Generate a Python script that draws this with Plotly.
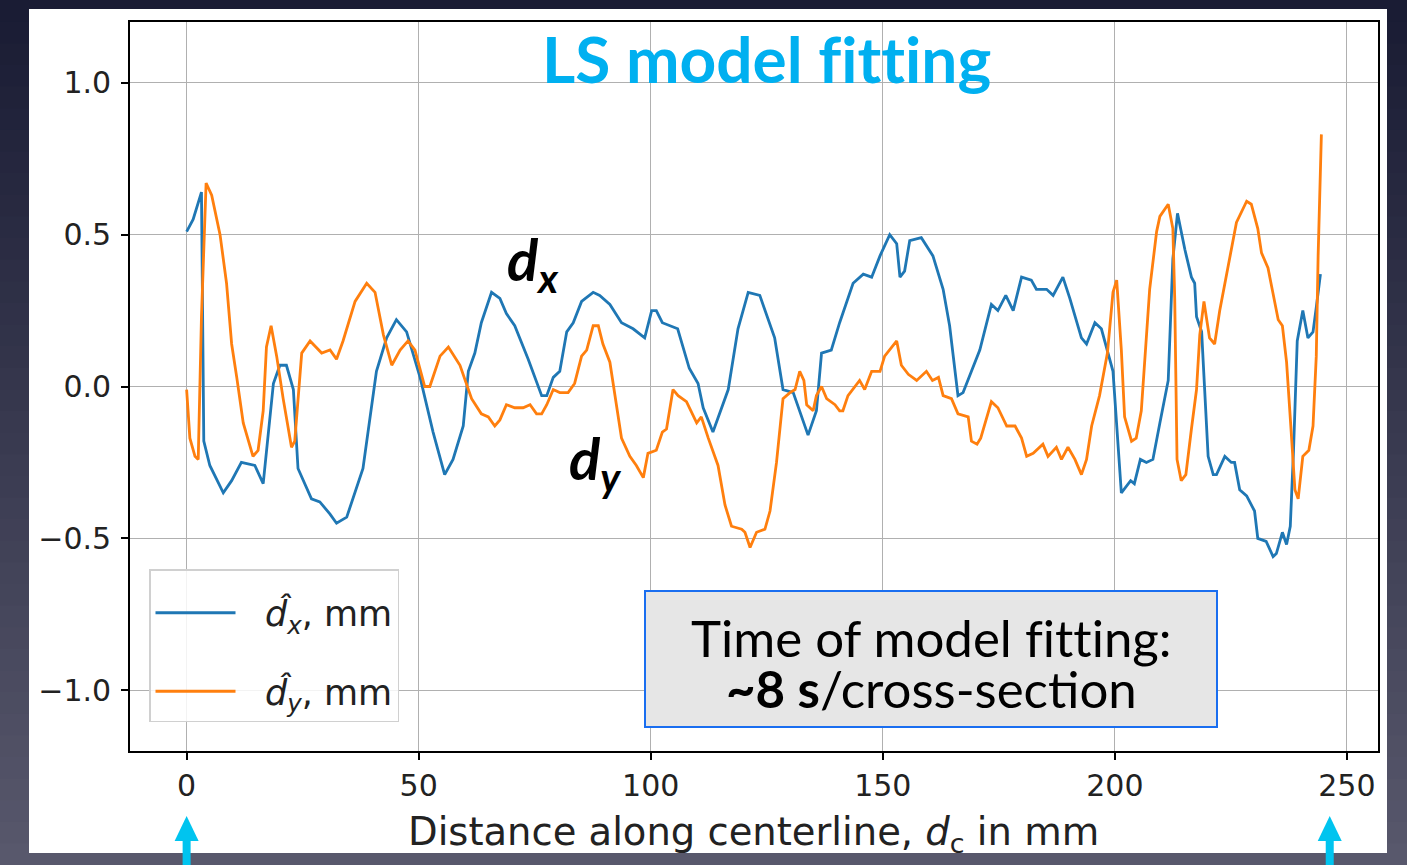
import plotly.graph_objects as go

# ---------------- data ----------------
dx_pos = [0, 1.4, 3.2, 3.7, 5.0, 7.9, 9.7, 11.8, 14.7, 16.5,
          18.7, 20.1, 21.5, 23.0, 24.0, 26.9, 28.7, 30.9, 32.3, 34.5,
          38.0, 40.9, 43.1, 45.2, 47.4, 50.3, 53.1, 55.6, 57.4, 59.6,
          60.7, 62.1, 63.5, 65.7, 67.5, 68.9, 70.7, 73.6, 76.5, 77.6,
          79.0, 80.4, 81.9, 83.3, 85.1, 87.6, 89.0, 91.2, 93.7, 96.2,
          98.7, 100.2, 101.2, 102.5, 105.8, 108.3, 110.2, 111.3, 113.4, 115.2,
          116.7, 118.8, 121.0, 123.5, 126.7, 128.5, 130.7, 133.9, 135.7, 136.8,
          138.9, 140.7, 143.6, 145.8, 147.6, 149.4, 151.5, 153.0, 153.7, 154.7,
          155.8, 158.3, 160.8, 163.0, 164.4, 166.2, 167.3, 169.1, 170.9, 173.4,
          174.8, 176.5, 178.1, 179.9, 182.0, 183.1, 185.3, 186.7, 188.8, 190.3,
          192.8, 193.9, 195.7, 197.1, 199.6, 201.4, 203.4, 204.2, 205.5, 206.8,
          208.2, 209.7, 211.5, 212.5, 213.5, 215.1, 216.5, 217.2, 217.6, 218.7,
          219.4, 220.1, 221.2, 221.9, 223.7, 225.1, 225.8, 226.9, 228.4, 230.1,
          230.8, 232.6, 234.1, 234.8, 236.1, 237.0, 237.8, 238.5, 239.3, 240.5,
          241.6, 242.7, 243.4, 244.3]
dx_val = [0.51, 0.55, 0.64, -0.18, -0.26, -0.35, -0.31, -0.25, -0.26, -0.32,
          0.01, 0.07, 0.07, -0.01, -0.27, -0.37, -0.38, -0.42, -0.45, -0.43,
          -0.27, 0.05, 0.16, 0.22, 0.18, 0.03, -0.15, -0.29, -0.24, -0.13,
          0.05, 0.11, 0.21, 0.31, 0.29, 0.24, 0.20, 0.09, -0.03, -0.03,
          0.03, 0.05, 0.18, 0.21, 0.28, 0.31, 0.30, 0.27, 0.21, 0.19,
          0.16, 0.25, 0.25, 0.21, 0.19, 0.06, 0.01, -0.07, -0.15, -0.07,
          -0.01, 0.19, 0.31, 0.30, 0.16, -0.01, -0.02, -0.16, -0.08, 0.11,
          0.12, 0.21, 0.34, 0.37, 0.36, 0.43, 0.50, 0.47, 0.36, 0.38,
          0.48, 0.49, 0.43, 0.32, 0.20, -0.03, -0.02, 0.05, 0.12, 0.27,
          0.25, 0.30, 0.25, 0.36, 0.35, 0.32, 0.32, 0.30, 0.36, 0.29,
          0.16, 0.14, 0.21, 0.19, 0.05, -0.35, -0.31, -0.32, -0.24, -0.25,
          -0.24, -0.12, 0.02, 0.42, 0.57, 0.45, 0.36, 0.34, 0.23, 0.18,
          -0.05, -0.23, -0.29, -0.29, -0.23, -0.25, -0.25, -0.34, -0.36, -0.41,
          -0.50, -0.51, -0.56, -0.55, -0.48, -0.52, -0.46, -0.21, 0.15, 0.25,
          0.16, 0.18, 0.26, 0.37]

dy_pos = [0, 0.7, 1.8, 2.5, 3.2, 4.2, 5.4, 7.2, 8.6, 9.7,
          10.8, 12.2, 14.3, 15.4, 16.5, 17.2, 18.2, 19.4, 20.8, 22.6,
          23.3, 24.8, 26.6, 29.1, 30.9, 32.3, 33.7, 36.3, 38.8, 40.6,
          42.4, 44.2, 46.0, 47.7, 49.2, 51.3, 52.4, 54.6, 56.4, 58.9,
          61.4, 63.5, 65.0, 66.4, 67.5, 68.9, 70.7, 72.5, 74.0, 75.4,
          76.5, 77.6, 79.0, 80.4, 82.2, 83.6, 85.1, 86.2, 87.6, 88.7,
          89.7, 91.2, 92.6, 93.7, 95.5, 96.9, 98.4, 99.4, 101.2, 102.5,
          103.4, 104.8, 105.9, 107.7, 109.9, 110.9, 112.4, 114.5, 116.0, 117.4,
          119.6, 120.3, 121.4, 122.8, 124.6, 125.7, 127.1, 128.5, 130.0, 131.1,
          132.1, 133.0, 133.6, 135.0, 135.7, 136.8, 137.9, 139.7, 140.7, 141.4,
          142.5, 145.0, 146.1, 147.6, 149.4, 150.4, 153.0, 154.0, 155.5, 157.3,
          159.4, 160.7, 162.0, 163.0, 164.8, 166.2, 168.4, 169.1, 170.3, 171.1,
          173.4, 174.8, 176.7, 178.5, 179.9, 181.0, 182.4, 184.5, 185.6, 187.4,
          188.5, 189.9, 191.4, 192.8, 193.9, 195.0, 196.7, 198.4, 199.6, 200.4,
          201.4, 202.1, 203.6, 204.6, 205.7, 206.8, 207.5, 209.0, 209.7, 211.5,
          212.5, 212.9, 213.4, 214.3, 215.3, 216.5, 217.6, 218.3, 219.2, 220.4,
          221.5, 222.6, 224.4, 226.2, 228.4, 229.4, 230.8, 231.6, 233.0, 234.1,
          235.2, 236.1, 237.0, 238.0, 238.8, 239.5, 240.5, 241.8, 242.7, 243.4,
          243.8, 244.5]
dy_val = [-0.01, -0.17, -0.23, -0.24, 0.23, 0.67, 0.63, 0.50, 0.34, 0.14,
          0.03, -0.12, -0.23, -0.21, -0.08, 0.13, 0.20, 0.10, -0.04, -0.20,
          -0.18, 0.11, 0.15, 0.11, 0.12, 0.09, 0.15, 0.28, 0.34, 0.31,
          0.17, 0.07, 0.12, 0.15, 0.12, 0.00, 0.00, 0.10, 0.13, 0.07,
          -0.04, -0.09, -0.10, -0.13, -0.11, -0.06, -0.07, -0.07, -0.06, -0.09,
          -0.09, -0.06, -0.01, -0.02, -0.02, 0.01, 0.10, 0.12, 0.20, 0.20,
          0.14, 0.08, -0.06, -0.17, -0.23, -0.26, -0.30, -0.22, -0.21, -0.15,
          -0.14, -0.01, -0.03, -0.05, -0.12, -0.10, -0.17, -0.26, -0.39, -0.46,
          -0.47, -0.48, -0.53, -0.48, -0.47, -0.41, -0.25, -0.04, -0.02, -0.01,
          0.05, 0.02, -0.06, -0.08, -0.03, 0.00, -0.04, -0.06, -0.08, -0.08,
          -0.03, 0.02, -0.01, 0.05, 0.05, 0.10, 0.15, 0.07, 0.04, 0.02,
          0.05, 0.02, 0.03, -0.03, -0.04, -0.09, -0.10, -0.18, -0.19, -0.17,
          -0.05, -0.07, -0.13, -0.13, -0.17, -0.23, -0.22, -0.19, -0.23, -0.20,
          -0.24, -0.20, -0.24, -0.29, -0.24, -0.13, -0.03, 0.11, 0.31, 0.35,
          0.12, -0.10, -0.18, -0.17, -0.08, 0.18, 0.32, 0.51, 0.56, 0.60,
          0.52, 0.29, -0.24, -0.31, -0.29, -0.14, -0.01, 0.17, 0.28, 0.16,
          0.14, 0.25, 0.40, 0.54, 0.61, 0.60, 0.52, 0.44, 0.39, 0.30,
          0.22, 0.20, 0.08, -0.15, -0.34, -0.37, -0.23, -0.21, -0.13, 0.10,
          0.43, 0.83]

x_ticks = [0, 50, 100, 150, 200, 250]
y_ticks = [-1.0, -0.5, 0.0, 0.5, 1.0]
series_names = ["\u2002\u2009<i>d̂</i><sub><i>x</i></sub>, mm",
                "\u2002\u2009<i>d̂</i><sub><i>y</i></sub>, mm"]
arrow_marks = [0, 246.3]

# ---------------- layout geometry ----------------
W, H = 1407, 865
L, R, T, B = 130, 1378, 22, 751


def px(x):
    return (x - L) / (R - L)


def py(y):
    return (B - y) / (B - T)


ZW = "\u200c"  # break f-i / t-t ligatures

fig = go.Figure()
fig.add_trace(go.Scatter(x=dx_pos, y=dx_val, mode="lines", name=series_names[0],
                         line=dict(color="#1f77b4", width=2.8), legendgroup="a"))
fig.add_trace(go.Scatter(x=dy_pos, y=dy_val, mode="lines", name=series_names[1],
                         line=dict(color="#ff7f0e", width=2.8), legendgroup="b"))

shapes = []
# slide background gradient
n = 40
c0, c1 = (26, 28, 52), (88, 88, 108)
for i in range(n):
    t = i / (n - 1)
    c = tuple(int(c0[k] + (c1[k] - c0[k]) * t) for k in range(3))
    shapes.append(dict(type="rect", xref="paper", yref="paper", layer="below",
                       x0=px(0), x1=px(W), y0=py(H * i / n), y1=py(H * (i + 1) / n + 1),
                       fillcolor="rgb(%d,%d,%d)" % c, line=dict(width=0)))
# white panel
shapes.append(dict(type="rect", xref="paper", yref="paper", layer="below",
                   x0=px(29), x1=px(1387), y0=py(9), y1=py(853),
                   fillcolor="white", line=dict(width=0)))
# text box
shapes.append(dict(type="rect", xref="paper", yref="paper", layer="above",
                   x0=px(645), x1=px(1217), y0=py(591), y1=py(727),
                   fillcolor="#e6e6e6", line=dict(color="#1a6ef0", width=2)))
# cyan arrows
for xm in arrow_marks:
    shapes.append(dict(type="path", xref="x", yref="paper", layer="above",
                       xsizemode="pixel", xanchor=xm,
                       path="M-12,{a} L0,{b} L12,{a} Z".format(a=py(841), b=py(816)),
                       fillcolor="#00c4ef", line=dict(width=0)))
    shapes.append(dict(type="rect", xref="x", yref="paper", layer="above",
                       xsizemode="pixel", xanchor=xm, x0=-4, x1=4,
                       y0=py(840), y1=py(870), fillcolor="#00c4ef", line=dict(width=0)))


def ann(text, x, y, size, family="Lato", color="black"):
    return dict(text=text, x=px(x), y=py(y), xref="paper", yref="paper",
                xanchor="center", yanchor="middle", showarrow=False,
                font=dict(family=family, size=size, color=color))


annotations = [
    ann("<b>LS model f" + ZW + "it" + ZW + "t" + ZW + "ing</b>", 766, 59, 64, color="#00b0f0"),
    ann("<b><i>d</i></b><sub><b><i>x</i></b></sub>", 533, 263, 58),
    ann("<b><i>d</i></b><sub><b><i>y</i></b></sub>", 595, 462, 58),
    ann("Time of model f" + ZW + "it" + ZW + "t" + ZW + "ing:", 931, 637, 51),
    ann("<b>~8 s</b>/cross-section", 931, 688, 51),
    ann("Distance along centerline, <i>d</i><sub>c</sub> in mm", 753, 834, 38.5,
        family="DejaVu Sans", color="#222222"),
]

fig.update_layout(
    width=W, height=H,
    margin=dict(l=L, r=W - R, t=T, b=H - B, pad=0),
    paper_bgcolor="#2a2c44",
    plot_bgcolor="white",
    shapes=shapes,
    annotations=annotations,
    showlegend=True,
    legend=dict(x=px(149), y=py(569), xanchor="left", yanchor="top",
                bgcolor="rgba(255,255,255,0.85)", bordercolor="#d0d0d0", borderwidth=1.5,
                font=dict(family="DejaVu Sans", size=35, color="#222222"),
                title=dict(text=" ", font=dict(size=10)),
                tracegroupgap=30, itemwidth=80),
    font=dict(family="DejaVu Sans", color="#222222"),
)
fig.update_xaxes(range=[-12.2, 256.7], tickvals=x_ticks, ticktext=[str(v) for v in x_ticks],
                 showgrid=True, gridcolor="#b0b0b0", gridwidth=1.2,
                 showline=True, linecolor="black", linewidth=1.6, mirror=True,
                 ticks="outside", ticklen=7, tickwidth=1.5, tickcolor="black",
                 tickfont=dict(family="DejaVu Sans", size=30, color="#222222"),
                 zeroline=False)
fig.update_yaxes(range=[-1.2, 1.2], tickvals=y_ticks, tickformat=".1f",
                 showgrid=True, gridcolor="#b0b0b0", gridwidth=1.2,
                 showline=True, linecolor="black", linewidth=1.6, mirror=True,
                 ticks="outside", ticklen=7, tickwidth=1.5, tickcolor="black",
                 ticklabelstandoff=4,
                 tickfont=dict(family="DejaVu Sans", size=30, color="#222222"),
                 zeroline=False)

fig.write_html("out.html")
